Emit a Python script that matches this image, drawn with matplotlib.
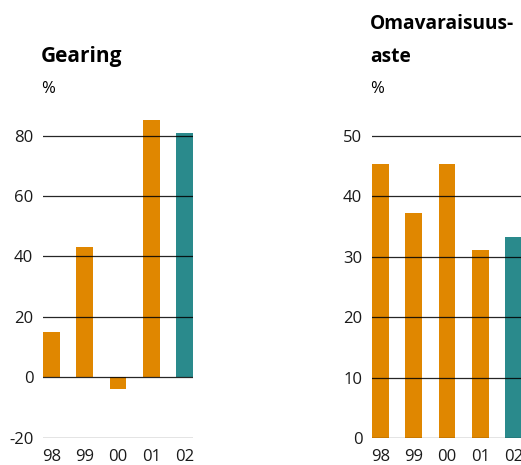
"""
Two small bar panels: Gearing and Omavaraisuusaste, 1998-2002.
"""

import matplotlib
matplotlib.use("Agg")
import matplotlib.pyplot as plt


YEARS = ["98", "99", "00", "01", "02"]
GEARING = [15, 43, -3.8, 85, 80.8]
EQUITY_RATIO = [45.3, 37.2, 45.3, 31.1, 33.3]

GEARING_TICKS = [-20, 0, 20, 40, 60, 80]
EQUITY_TICKS = [0, 10, 20, 30, 40, 50]

ORANGE = "#e08700"
TEAL = "#2a8a8c"
BAR_COLORS = [ORANGE, ORANGE, ORANGE, ORANGE, TEAL]

W, H = 521, 465

plt.rcParams["font.family"] = ["Open Sans", "DejaVu Sans"]


def style_axis(ax, ticks, ylim):
    """
    Bars with black grid lines on top, no spines, no tick marks.
    """
    ax.set_ylim(*ylim)
    ax.set_xlim(-0.26, 4.26)
    ax.set_yticks(ticks)
    ax.set_yticklabels([str(t) for t in ticks])
    ax.set_xticks(range(len(YEARS)))
    ax.set_xticklabels(YEARS)
    ax.tick_params(length=0, labelsize=12, colors="#1a1a1a")
    ax.tick_params(axis="y", pad=7)
    ax.tick_params(axis="x", pad=8)
    ax.set_axisbelow(False)
    ax.yaxis.grid(True, color="black", linewidth=0.9, alpha=0.85)
    for spine in ax.spines.values():
        spine.set_visible(False)


fig = plt.figure(figsize=(W / 100, H / 100), dpi=100)

# left panel
ax1 = fig.add_axes([43 / W, 1 - 437.7 / H, 150 / W, (437.7 - 103.2) / H])
ax1.bar(range(len(YEARS)), GEARING, width=0.51, color=BAR_COLORS)
style_axis(ax1, GEARING_TICKS, (-20, 90.7))

# right panel
ax2 = fig.add_axes([372 / W, 1 - 438.3 / H, 150 / W, (438.3 - 105.5) / H])
ax2.bar(range(len(YEARS)), EQUITY_RATIO, width=0.51, color=BAR_COLORS)
style_axis(ax2, EQUITY_TICKS, (0, 55))

fig.text(41 / W, 1 - 62 / H, "Gearing", fontsize=15, fontweight="bold", va="baseline")
fig.text(41 / W, 1 - 93 / H, "%", fontsize=12, va="baseline")

fig.text(370 / W, 1 - 29.3 / H, "Omavaraisuus-", fontsize=13.8, fontweight="bold", va="baseline")
fig.text(370 / W, 1 - 61.7 / H, "aste", fontsize=13.8, fontweight="bold", va="baseline")
fig.text(370 / W, 1 - 93 / H, "%", fontsize=12, va="baseline")

fig.savefig("out.png", dpi=100)
